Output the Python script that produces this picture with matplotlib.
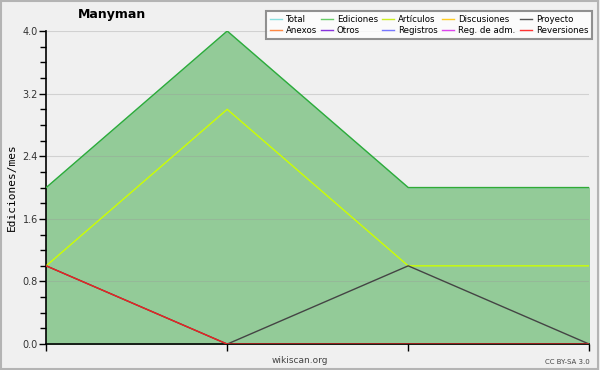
import matplotlib.pyplot as plt
from matplotlib.lines import Line2D
from matplotlib.ticker import MultipleLocator, NullFormatter
from matplotlib import font_manager

# data
periods = [0, 1, 2, 3]
total = [2, 4, 2, 2]
ediciones = [2, 4, 2, 2]
articulos = [1, 3, 1, 1]
proyecto = [1, 0, 1, 0]
reversiones = [1, 0, 0, 0]

legend_labels = ['Total', 'Ediciones', 'Artículos', 'Discusiones', 'Proyecto',
                 'Anexos', 'Otros', 'Registros', 'Reg. de adm.', 'Reversiones']
legend_colors = ['#88e0e0', '#66cc66', '#ccee22', '#ffcc22', '#555555',
                 '#ff8844', '#8833dd', '#7777ff', '#dd44ee', '#ff3333']


def narrow_family():
    # the reference uses a condensed face; take one if it is installed
    for fam in ['DejaVu Sans Condensed', 'Liberation Sans Narrow']:
        try:
            font_manager.findfont(fam, fallback_to_default=False)
            return fam, 7
        except ValueError:
            pass
    return 'DejaVu Sans', 6.2


leg_family, leg_size = narrow_family()

bg = '#f0f0f0'
fig = plt.figure(figsize=(6, 3.7), dpi=100, facecolor=bg)
ax = fig.add_axes([0.077, 0.070, 0.905, 0.846])
ax.set_facecolor(bg)

# frame round the picture
fig.patches.append(plt.Rectangle((0.002, 0.003), 0.995, 0.994, transform=fig.transFigure,
                                 fill=False, edgecolor='#b4b4b4', linewidth=1.5))

ax.fill_between(periods, 0, ediciones, color='#93cb98', zorder=1)
ax.plot(periods, total, color='#88e0e0', linewidth=1.0, zorder=2)
ax.plot(periods, ediciones, color='#33aa33', linewidth=1.0, zorder=3)
ax.plot(periods, articulos, color='#ccff00', linewidth=1.0, zorder=3)
ax.plot(periods, proyecto, color='#444444', linewidth=1.0, zorder=3)
ax.plot(periods, reversiones, color='#ee2222', linewidth=1.0, zorder=4)

ax.set_xlim(0, 3)
ax.set_ylim(0, 4.0)
ax.yaxis.set_major_locator(MultipleLocator(0.8))
ax.yaxis.set_minor_locator(MultipleLocator(0.2))
ax.yaxis.set_major_formatter(plt.FuncFormatter(lambda v, p: f'{v:.1f}'))
ax.set_xticks(periods)
ax.xaxis.set_major_formatter(NullFormatter())
ax.grid(axis='y', which='major', color='#999999', alpha=0.35, linewidth=0.8, zorder=5)
ax.set_axisbelow(False)

for s in ['top', 'right']:
    ax.spines[s].set_visible(False)
ax.spines['left'].set_linewidth(1.2)
ax.spines['bottom'].set_linewidth(1.2)
ax.tick_params(axis='y', which='major', length=5, width=1, labelsize=7, pad=1, colors='black',
               labelcolor='#333333')
ax.tick_params(axis='y', which='minor', length=4, width=1)
ax.tick_params(axis='x', which='major', length=5, width=1, direction='out')

ax.set_ylabel('Ediciones/mes', fontsize=8, family='DejaVu Sans Mono', labelpad=4)
fig.text(0.187, 0.962, 'Manyman', fontsize=9, fontweight='bold', ha='center', va='center')
fig.text(0.5, 0.027, 'wikiscan.org', fontsize=6.5, color='#444444', ha='center', va='center')
fig.text(0.983, 0.022, 'CC BY-SA 3.0', fontsize=5, color='#444444', ha='right', va='center')

# legend, filled row by row like the reference
handles = [Line2D([], [], color=c, linewidth=1.0) for c in legend_colors]
order = [0, 5, 1, 6, 2, 7, 3, 8, 4, 9]
leg = fig.legend([handles[i] for i in order], [legend_labels[i] for i in order],
                 ncol=5, loc='upper right', bbox_to_anchor=(0.987, 0.97),
                 prop={'family': leg_family, 'size': leg_size},
                 frameon=True, fancybox=False, handlelength=1.4,
                 handletextpad=0.45, columnspacing=0.5, labelspacing=0.2,
                 borderpad=0.45, borderaxespad=0)
leg.get_frame().set_edgecolor('#777777')
leg.get_frame().set_linewidth(1.5)

fig.savefig('out.png', dpi=100, facecolor=bg)
